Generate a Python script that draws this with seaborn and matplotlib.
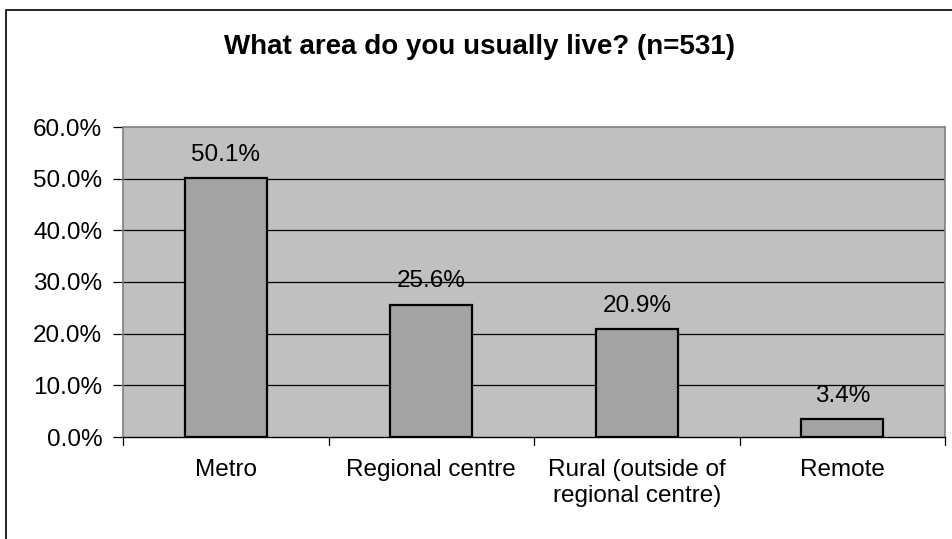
import matplotlib
matplotlib.use("Agg")
import matplotlib.pyplot as plt
import seaborn as sns
import pandas as pd
from matplotlib.patches import Rectangle

categories = ["Metro", "Regional centre", "Rural (outside of\nregional centre)", "Remote"]
values = [50.1, 25.6, 20.9, 3.4]
y_ticks = [0, 10, 20, 30, 40, 50, 60]
title = "What area do you usually live? (n=531)"

sns.set_theme(style="white")
plt.rcParams["font.family"] = ["Liberation Sans", "DejaVu Sans"]

df = pd.DataFrame({"area": categories, "pct": values})

fig = plt.figure(figsize=(9.52, 5.39), dpi=100)
ax = fig.add_axes([123 / 952, 1 - 437 / 539, (945 - 123) / 952, (437 - 127) / 539])
ax.set_facecolor("#C0C0C0")

sns.barplot(data=df, x="area", y="pct", ax=ax, color="#A3A3A3", width=0.4,
            edgecolor="black", linewidth=1.6, saturation=1, zorder=3)

FS = 17.5

ax.set_xlim(-0.5, len(categories) - 0.5)
ax.set_ylim(0, 60)
ax.set_yticks(y_ticks)
ax.set_yticklabels([f"{t:.1f}%" for t in y_ticks], fontsize=FS, color="black")
ax.set_xticks(range(len(categories)))
ax.set_xticklabels(categories, fontsize=FS, color="black", linespacing=1.25)
ax.set_xlabel("")
ax.set_ylabel("")

# horizontal gridlines
for t in y_ticks[1:-1]:
    ax.axhline(t, color="black", linewidth=0.9, zorder=1)

# category boundary ticks below the axis
ax.tick_params(axis="x", length=0, pad=16)
for b in [i - 0.5 for i in range(len(categories) + 1)]:
    ax.plot([b, b], [0, -1.5], color="black", linewidth=0.9, clip_on=False, zorder=4)
ax.tick_params(axis="y", length=7, width=0.9, color="black", pad=8, left=True)

for side in ["top", "right", "left"]:
    ax.spines[side].set_color("#808080")
    ax.spines[side].set_linewidth(1.2)
ax.spines["bottom"].set_color("black")
ax.spines["bottom"].set_linewidth(1.0)
for s in ax.spines.values():
    s.set_visible(True)

for i, v in enumerate(values):
    ax.annotate(f"{v:.1f}%", (i, v), xytext=(0, 9), textcoords="offset points",
                ha="center", va="bottom", fontsize=FS, color="black", zorder=5)

fig.text(480 / 952, 1 - 47 / 539, title, ha="center", va="center",
         fontsize=20, fontweight="bold", color="black")

# outer chart frame
fig.patches.append(Rectangle((6 / 952, -0.01), 1.0, 1 - 10 / 539 + 0.01, transform=fig.transFigure,
                             fill=False, edgecolor="black", linewidth=1.2, zorder=0))

fig.savefig("out.png", dpi=100, facecolor="white")
